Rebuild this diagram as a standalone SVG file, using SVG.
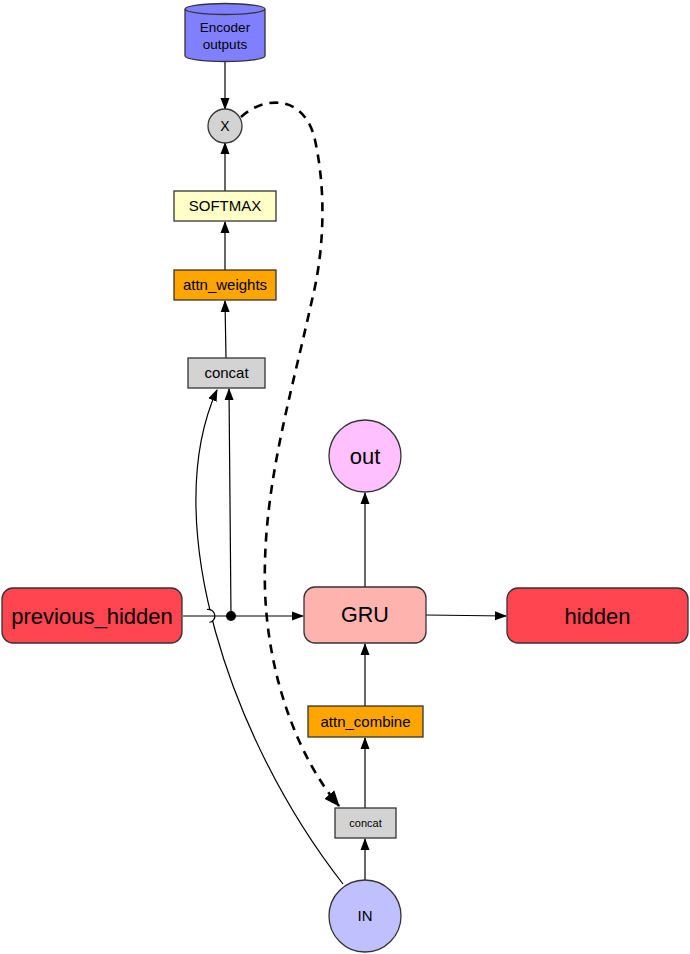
<svg xmlns="http://www.w3.org/2000/svg" width="690" height="954" viewBox="0 0 690 954">
<style>
.n{stroke:#333;stroke-width:1.3}
.t{font-family:"Liberation Sans",Arial,sans-serif;fill:#000;text-anchor:middle;dominant-baseline:central}
.e{fill:none;stroke:#000;stroke-width:1.2}
.d{fill:none;stroke:#000;stroke-width:2.6;stroke-dasharray:9 7}
</style>
<defs>
<marker id="a" markerUnits="userSpaceOnUse" markerWidth="12" markerHeight="12" viewBox="0 0 12 12" refX="11" refY="6" orient="auto"><path d="M0,1.5 L12,6 L0,10.5 Z" fill="#000"/></marker>
<marker id="ad" markerUnits="userSpaceOnUse" markerWidth="16" markerHeight="16" viewBox="0 0 16 16" refX="15" refY="8" orient="auto"><path d="M0,1.5 L16,8 L0,14.5 Z" fill="#000"/></marker>
</defs>
<rect width="690" height="954" fill="#fff"/>
<g id="connectors">
<line class="e" x1="225" y1="62" x2="225" y2="109" marker-end="url(#a)"/>
<line class="e" x1="225" y1="191" x2="225" y2="143" marker-end="url(#a)"/>
<line class="e" x1="225" y1="270" x2="225" y2="222" marker-end="url(#a)"/>
<line class="e" x1="226" y1="358" x2="225" y2="301" marker-end="url(#a)"/>
<line class="e" x1="231" y1="616" x2="229" y2="389" marker-end="url(#a)"/>
<path class="e" d="M343,884 C230,740 158,520 217,390" marker-end="url(#a)"/>
<circle cx="209" cy="616" r="6" fill="#fff"/>
<line class="e" x1="183" y1="616" x2="303" y2="616" marker-end="url(#a)"/>
<path class="e" d="M207,609.5 A6.5,6.5 0 0 1 209.5,622.5"/>
<circle cx="231" cy="616" r="5" fill="#000"/>
<line class="e" x1="426" y1="615" x2="506" y2="616" marker-end="url(#a)"/>
<line class="e" x1="365" y1="587" x2="365" y2="493" marker-end="url(#a)"/>
<line class="e" x1="365" y1="706" x2="365" y2="644" marker-end="url(#a)"/>
<line class="e" x1="365" y1="808" x2="365" y2="738" marker-end="url(#a)"/>
<line class="e" x1="365" y1="880" x2="365" y2="839" marker-end="url(#a)"/>
<path class="d" d="M241,117 C265,95 305,95 315,140 C328,200 322,260 312,300 C290,400 262,490 265,590 C268,680 300,760 339,806" marker-end="url(#ad)"/>
</g>
<g id="encoder">
<path class="n" fill="#8080ff" d="M185,9 L185,56 A40,5.5 0 0 0 265,56 L265,9"/>
<ellipse class="n" fill="#8080ff" cx="225" cy="9" rx="40" ry="5.5"/>
<text class="t" x="225" y="27" font-size="13.5">Encoder</text>
<text class="t" x="225" y="44" font-size="13.5">outputs</text>
</g>
<g id="mult">
<circle class="n" fill="#d3d3d3" cx="225" cy="126" r="17"/>
<text class="t" x="225" y="126" font-size="14">X</text>
</g>
<g id="softmax">
<rect class="n" fill="#ffffc8" x="174" y="191" width="102" height="30"/>
<text class="t" x="225" y="205.5" font-size="15">SOFTMAX</text>
</g>
<g id="attn_weights">
<rect class="n" fill="#ffa500" x="174" y="270" width="102" height="30"/>
<text class="t" x="225" y="284.5" font-size="15">attn_weights</text>
</g>
<g id="concat1">
<rect class="n" fill="#d3d3d3" x="188" y="358" width="77" height="30"/>
<text class="t" x="226.5" y="372.5" font-size="15">concat</text>
</g>
<g id="previous_hidden">
<rect class="n" fill="#ff4550" x="2" y="588" width="180" height="55" rx="11"/>
<text class="t" x="92" y="616" font-size="22">previous_hidden</text>
</g>
<g id="gru">
<rect class="n" fill="#ffb3ae" x="304" y="587" width="122" height="56" rx="11"/>
<text class="t" x="365" y="614.5" font-size="21.5">GRU</text>
</g>
<g id="hidden">
<rect class="n" fill="#ff4550" x="507" y="588" width="181" height="55" rx="11"/>
<text class="t" x="597.5" y="616" font-size="22">hidden</text>
</g>
<g id="out">
<circle class="n" fill="#ffc0ff" cx="365" cy="456" r="36"/>
<text class="t" x="365" y="456" font-size="22">out</text>
</g>
<g id="attn_combine">
<rect class="n" fill="#ffa500" x="308" y="706" width="115" height="31"/>
<text class="t" x="365.5" y="721" font-size="15">attn_combine</text>
</g>
<g id="concat2">
<rect class="n" fill="#d3d3d3" x="335" y="808" width="61" height="30"/>
<text class="t" x="365.5" y="822.5" font-size="11">concat</text>
</g>
<g id="in">
<circle class="n" fill="#c0c0ff" cx="365" cy="916" r="36"/>
<text class="t" x="365" y="915.5" font-size="15">IN</text>
</g>
</svg>
